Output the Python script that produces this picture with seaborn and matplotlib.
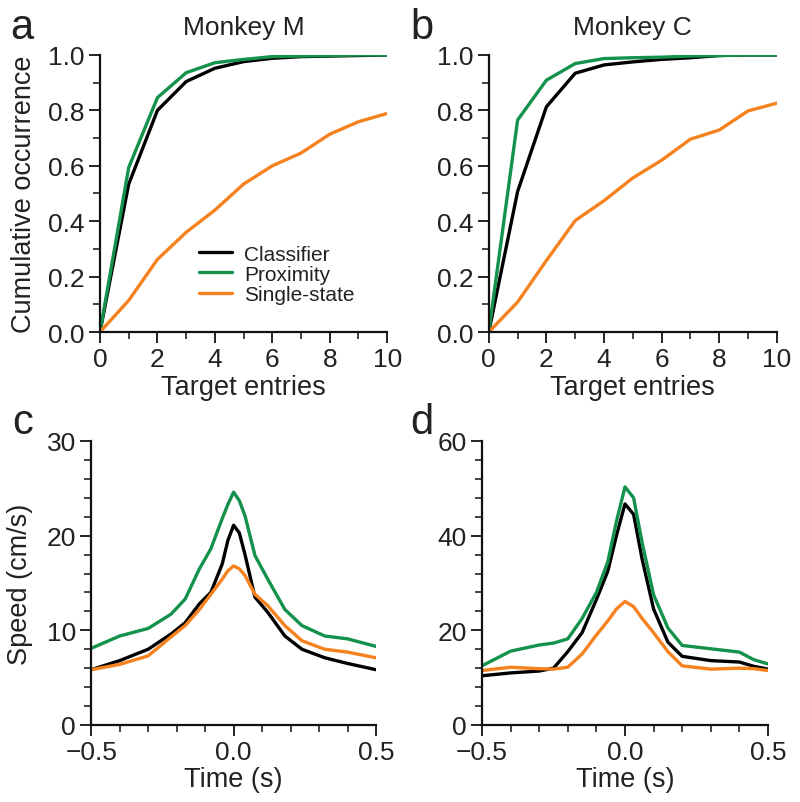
import numpy as np
import pandas as pd
import matplotlib
matplotlib.use("Agg")
import matplotlib.pyplot as plt
import seaborn as sns
from matplotlib.ticker import MultipleLocator
from matplotlib.lines import Line2D

# ---------------- data ----------------
entries = [0, 1, 2, 3, 4, 5, 6, 7, 8, 9, 10]
m_classifier = [0, 0.534, 0.800, 0.904, 0.952, 0.976, 0.988, 0.994, 0.996, 0.998, 1.0]
m_proximity = [0, 0.594, 0.846, 0.936, 0.972, 0.984, 0.994, 0.996, 0.998, 1.0, 1.0]
m_single = [0, 0.114, 0.262, 0.360, 0.440, 0.534, 0.600, 0.646, 0.714, 0.759, 0.789]

c_classifier = [0, 0.507, 0.813, 0.934, 0.964, 0.975, 0.984, 0.990, 0.998, 1.0, 1.0]
c_proximity = [0, 0.765, 0.909, 0.969, 0.987, 0.990, 0.992, 0.996, 0.998, 1.0, 1.0]
c_single = [0, 0.108, 0.258, 0.402, 0.474, 0.556, 0.620, 0.696, 0.729, 0.798, 0.826]

time_m = [-0.5, -0.4, -0.3, -0.22, -0.17, -0.12, -0.08, -0.04, -0.02, 0.0, 0.02, 0.04, 0.075, 0.12, 0.18, 0.24, 0.32, 0.4, 0.5]
speed_m_proximity = [8.1, 9.4, 10.2, 11.7, 13.3, 16.5, 18.6, 21.8, 23.3, 24.6, 23.7, 22.1, 17.9, 15.4, 12.2, 10.5, 9.4, 9.1, 8.3]
speed_m_classifier = [5.84, 6.8, 8.0, 9.6, 10.8, 12.8, 14.0, 17.0, 19.5, 21.1, 20.3, 18.0, 13.5, 11.9, 9.4, 8.0, 7.1, 6.5, 5.84]
speed_m_single = [5.84, 6.4, 7.3, 9.3, 10.5, 12.2, 13.8, 15.4, 16.3, 16.8, 16.5, 15.8, 13.8, 12.6, 10.5, 8.9, 8.0, 7.7, 7.1]

time_c = [-0.5, -0.4, -0.3, -0.25, -0.2, -0.15, -0.1, -0.06, -0.03, 0.0, 0.03, 0.06, 0.1, 0.15, 0.2, 0.3, 0.4, 0.45, 0.5]
speed_c_proximity = [12.5, 15.6, 16.9, 17.3, 18.2, 22.5, 28.0, 34.5, 43.0, 50.3, 48.0, 38.5, 27.5, 20.5, 16.8, 16.1, 15.4, 13.8, 12.9]
speed_c_classifier = [10.4, 11.0, 11.4, 12.0, 15.5, 19.5, 26.5, 32.5, 40.0, 46.7, 44.5, 35.0, 24.5, 17.5, 14.5, 13.6, 13.3, 12.4, 11.8]
speed_c_single = [11.5, 12.2, 11.9, 11.8, 12.2, 15.0, 19.0, 22.0, 24.5, 26.1, 25.0, 22.5, 19.5, 15.5, 12.5, 11.8, 12.0, 11.9, 11.5]

methods = ["Classifier", "Proximity", "Single-state"]
colors = {"Classifier": "#000000", "Proximity": "#14924c", "Single-state": "#f5821f"}

# ---------------- style ----------------
sns.set_style("ticks")
plt.rcParams["font.family"] = ["Liberation Sans", "DejaVu Sans"]
plt.rcParams["axes.linewidth"] = 1.6
plt.rcParams["xtick.major.width"] = 1.4
plt.rcParams["ytick.major.width"] = 1.4
plt.rcParams["xtick.minor.width"] = 1.2
plt.rcParams["ytick.minor.width"] = 1.2
plt.rcParams["xtick.color"] = "#222222"
plt.rcParams["ytick.color"] = "#222222"
plt.rcParams["text.color"] = "#222222"
plt.rcParams["axes.labelcolor"] = "#222222"

TICK_FS = 19
LABEL_FS = 19.5
LW = 2.4

fig = plt.figure(figsize=(8.0, 8.03), dpi=100)

ax_a = fig.add_axes([0.125, 0.5853, 0.359, 0.345])
ax_b = fig.add_axes([0.611, 0.5853, 0.360, 0.345])
ax_c = fig.add_axes([0.114, 0.0959, 0.356, 0.3537])
ax_d = fig.add_axes([0.6025, 0.0959, 0.3575, 0.3537])


def long_df(x, series):
    rows = []
    for name, vals in zip(methods, series):
        for xi, yi in zip(x, vals):
            rows.append({"x": xi, "y": yi, "method": name})
    return pd.DataFrame(rows)


def style_axis(ax):
    sns.despine(ax=ax)
    ax.tick_params(axis="both", which="major", length=8, labelsize=TICK_FS, pad=3, direction="out")
    ax.tick_params(axis="both", which="minor", length=5, direction="out")
    for s in ("left", "bottom"):
        ax.spines[s].set_color("#111111")


# top panels
for ax, data, title in [
    (ax_a, [m_classifier, m_proximity, m_single], "Monkey M"),
    (ax_b, [c_classifier, c_proximity, c_single], "Monkey C"),
]:
    df = long_df(entries, data)
    sns.lineplot(data=df, x="x", y="y", hue="method", palette=colors, ax=ax,
                 linewidth=LW, legend=False, estimator=None)
    ax.set_xlim(0, 10)
    ax.set_ylim(0, 1.0)
    ax.set_xticks([0, 2, 4, 6, 8, 10])
    ax.set_yticks([0, 0.2, 0.4, 0.6, 0.8, 1.0])
    ax.set_yticklabels(["0.0", "0.2", "0.4", "0.6", "0.8", "1.0"])
    ax.xaxis.set_minor_locator(MultipleLocator(1))
    ax.yaxis.set_minor_locator(MultipleLocator(0.1))
    ax.set_xlabel("Target entries", fontsize=LABEL_FS, labelpad=2)
    ax.set_ylabel("")
    ax.set_title(title, fontsize=19, pad=15)
    style_axis(ax)

ax_a.set_ylabel("Cumulative occurrence", fontsize=LABEL_FS, labelpad=8)

# legend in panel a
handles = [Line2D([0], [0], color=colors[m], lw=LW) for m in methods]
ax_a.legend(handles, methods, loc="upper left", bbox_to_anchor=(0.345, 0.315),
            frameon=False, fontsize=15, handlelength=1.6, handletextpad=0.55,
            labelspacing=0.05, borderaxespad=0, borderpad=0)

# bottom panels
for ax, x, data, ymax, ystep, yminor in [
    (ax_c, time_m, [speed_m_classifier, speed_m_proximity, speed_m_single], 30, 10, 2),
    (ax_d, time_c, [speed_c_classifier, speed_c_proximity, speed_c_single], 60, 20, 4),
]:
    df = long_df(x, data)
    sns.lineplot(data=df, x="x", y="y", hue="method", palette=colors, ax=ax,
                 linewidth=LW, legend=False, estimator=None, sort=True)
    ax.set_xlim(-0.5, 0.5)
    ax.set_ylim(0, ymax)
    ax.set_xticks([-0.5, 0.0, 0.5])
    ax.set_yticks(np.arange(0, ymax + 1, ystep))
    ax.xaxis.set_minor_locator(MultipleLocator(0.1))
    ax.yaxis.set_minor_locator(MultipleLocator(yminor))
    ax.set_xlabel("Time (s)", fontsize=LABEL_FS, labelpad=1)
    ax.set_ylabel("")
    style_axis(ax)

ax_c.set_ylabel("Speed (cm/s)", fontsize=LABEL_FS, labelpad=10)

# panel letters
for label, (px, py) in zip("abcd", [(10, 28), (410, 28), (12, 423), (410, 423)]):
    fig.text(px / 800, 1 - py / 803, label, fontsize=30, ha="left", va="center")

fig.savefig("out.png", dpi=100)
